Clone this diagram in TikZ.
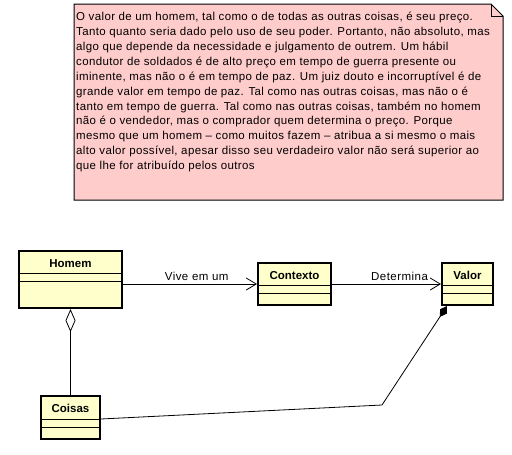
\documentclass[tikz,border=0pt]{standalone}
\usepackage{fontspec}
\setmainfont{Liberation Sans}
\usetikzlibrary{arrows.meta}
\definecolor{notefill}{RGB}{255,204,204}
\definecolor{clsfill}{RGB}{255,255,204}
\begin{document}
\begin{tikzpicture}[x=1pt,y=-1pt,
  cls/.style={draw=black, line width=2pt, fill=clsfill, inner sep=0pt, rectangle},
  clsname/.style={font=\fontsize{11.5}{13}\selectfont\bfseries, inner sep=0pt, anchor=center},
  conn/.style={draw=black, line width=0.8pt},
  lbl/.style={font=\fontsize{11.5}{13}\selectfont\addfontfeature{LetterSpace=4}, inner sep=0pt},
  notetext/.style={font=\fontsize{11.5}{14.9}\selectfont\addfontfeature{LetterSpace=3.2}, inner sep=0pt, align=left, anchor=north west}
]
\useasboundingbox (0,0) rectangle (512,455);
% note
\draw[fill=notefill, line width=1pt] (74,4) -- (491,4) -- (503,16) -- (503,200) -- (74,200) -- cycle;
\draw[line width=1pt] (491,4) -- (491,16) -- (503,16);
\node[notetext] (note) at (76,12) {O valor de um homem, tal como o de todas as outras coisas, é seu preço.\\
Tanto quanto seria dado pelo uso de seu poder. Portanto, não absoluto, mas\\
algo que depende da necessidade e julgamento de outrem. Um hábil\\
condutor de soldados é de alto preço em tempo de guerra presente ou\\
iminente, mas não o é em tempo de paz. Um juiz douto e incorruptível é de\\
grande valor em tempo de paz. Tal como nas outras coisas, mas não o é\\
tanto em tempo de guerra. Tal como nas outras coisas, também no homem\\
não é o vendedor, mas o comprador quem determina o preço. Porque\\
mesmo que um homem -- como muitos fazem -- atribua a si mesmo o mais\\
alto valor possível, apesar disso seu verdadeiro valor não será superior ao\\
que lhe for atribuído pelos outros};
% classes
\node[cls, minimum width=103pt, minimum height=57pt] (homem) at (70.5,279.5) {};
\node[clsname] at (70.5,263.5) {Homem};
\draw[line width=1pt] ([yshift=-23pt]homem.north west) -- ([yshift=-23pt]homem.north east);
\draw[line width=1pt] ([yshift=-31pt]homem.north west) -- ([yshift=-31pt]homem.north east);

\node[cls, minimum width=73pt, minimum height=42pt] (contexto) at (294.5,284) {};
\node[clsname] at (294.5,275.5) {Contexto};
\draw[line width=1pt] ([yshift=-23pt]contexto.north west) -- ([yshift=-23pt]contexto.north east);
\draw[line width=1pt] ([yshift=-31pt]contexto.north west) -- ([yshift=-31pt]contexto.north east);

\node[cls, minimum width=51pt, minimum height=42pt] (valor) at (467.5,284) {};
\node[clsname] at (467.5,275.5) {Valor};
\draw[line width=1pt] ([yshift=-23pt]valor.north west) -- ([yshift=-23pt]valor.north east);
\draw[line width=1pt] ([yshift=-31pt]valor.north west) -- ([yshift=-31pt]valor.north east);

\node[cls, minimum width=59pt, minimum height=43pt] (coisas) at (70.5,417.5) {};
\node[clsname] at (70.5,408.5) {Coisas};
\draw[line width=1pt] ([yshift=-24pt]coisas.north west) -- ([yshift=-24pt]coisas.north east);
\draw[line width=1pt] ([yshift=-32pt]coisas.north west) -- ([yshift=-32pt]coisas.north east);

% connectors
\draw[conn, -{Straight Barb[length=10pt,width=12pt]}] (homem.east |- contexto.west) -- (contexto.west)
  node[lbl, pos=0.55, above=3pt] {Vive em um};
\draw[conn, -{Straight Barb[length=10pt,width=12pt]}] (contexto.east) -- (valor.west)
  node[lbl, pos=0.62, above=3pt] {Determina};
\draw[conn, {Diamond[open,length=23pt,width=10pt]}-] (homem.south) -- (coisas.north);
\coordinate (bend) at (382,405);
\draw[conn, -{Diamond[length=13pt,width=8pt]}] ([yshift=-1.5pt]coisas.east) -- (bend) -- ([xshift=6pt]valor.south west);
\end{tikzpicture}
\end{document}
